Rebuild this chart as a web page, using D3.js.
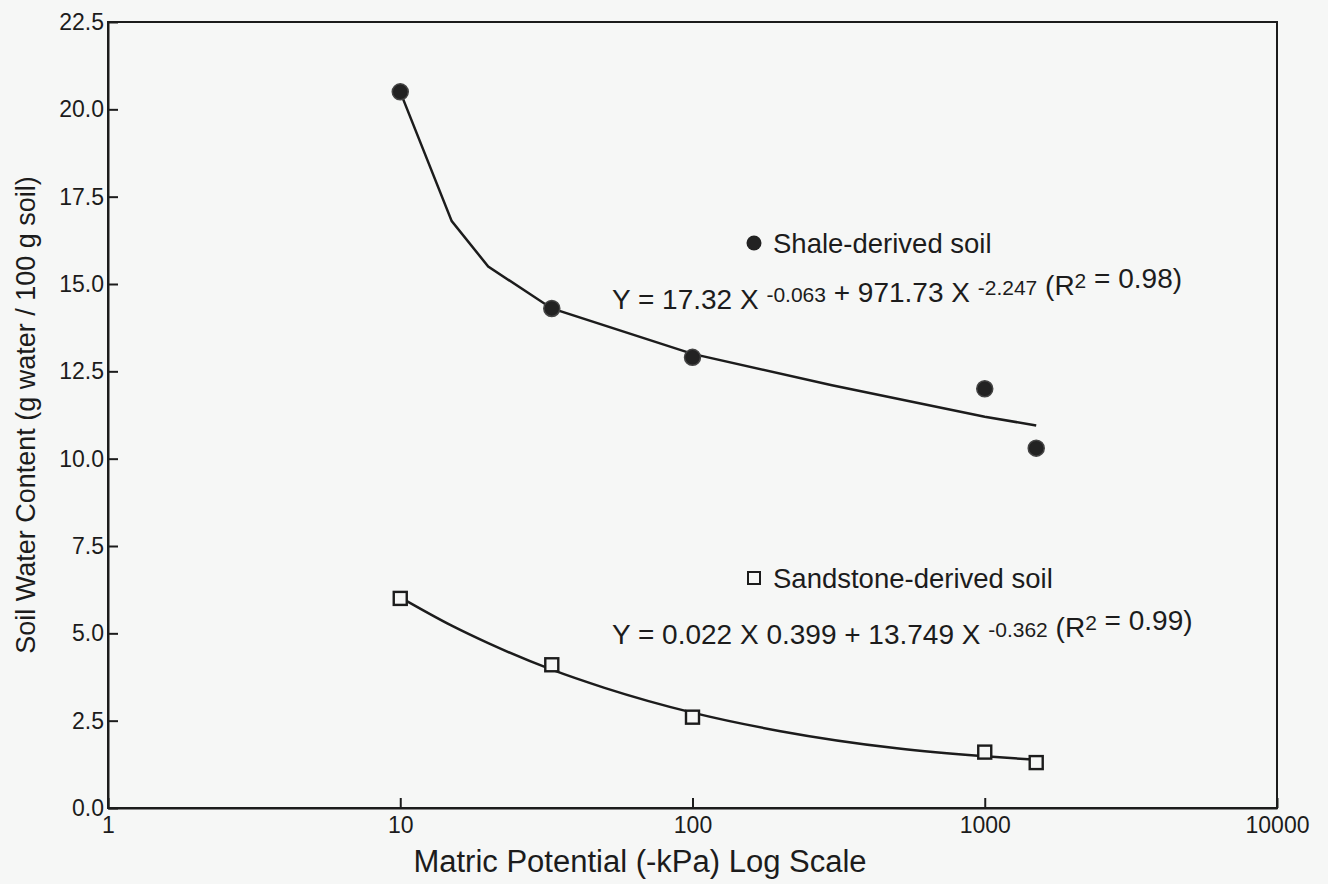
<!DOCTYPE html>
<html>
<head>
<meta charset="utf-8">
<script src="https://cdn.jsdelivr.net/npm/d3@7"></script>
<style>
  html, body { margin: 0; padding: 0; background: #f6f7f6; }
  svg { display: block; }
  text { font-family: "Liberation Sans", Arial, sans-serif; fill: #1c1c1c; }
</style>
</head>
<body>
<script>
// measured points
const potential = [10, 33, 100, 1000, 1500]
const shaleWater = [20.5, 14.3, 12.9, 12.0, 10.3]
const sandWater = [6.0, 4.1, 2.6, 1.6, 1.3]

// fitted curves
const shaleFitX = [10, 15, 20, 33, 100, 300, 1000, 1500]
const shaleFitY = [20.5, 16.8, 15.5, 14.3, 13.0, 12.1, 11.2, 10.95]
const sandFitX = [10, 15, 20, 33, 50, 100, 200, 500, 1000, 1500]
const sandFitY = [6.03, 5.22, 4.72, 3.96, 3.44, 2.73, 2.2, 1.71, 1.48, 1.38]

const xTicks = [1, 10, 100, 1000, 10000]
const yTicks = [0, 2.5, 5, 7.5, 10, 12.5, 15, 17.5, 20, 22.5]

const WIDTH = 1328
const HEIGHT = 884
const M = { left: 108, right: 51, top: 22, bottom: 76 }

const svg = d3.select('body').append('svg')
  .attr('width', WIDTH)
  .attr('height', HEIGHT)

const x = d3.scaleLog()
  .domain([1, 10000])
  .range([M.left, WIDTH - M.right])

const y = d3.scaleLinear()
  .domain([0, 22.5])
  .range([HEIGHT - M.bottom, M.top])

// frame
svg.append('rect')
  .attr('x', M.left)
  .attr('y', M.top)
  .attr('width', WIDTH - M.left - M.right)
  .attr('height', HEIGHT - M.top - M.bottom)
  .attr('fill', 'none')
  .attr('stroke', '#1c1c1c')
  .attr('stroke-width', 2)

// axes, ticks pointing inward
const xAxis = svg.append('g')
  .attr('transform', `translate(0,${HEIGHT - M.bottom})`)
  .call(d3.axisBottom(x).tickValues(xTicks).tickFormat(d3.format('d'))
    .tickSizeInner(-10).tickSizeOuter(0).tickPadding(9))

const yAxis = svg.append('g')
  .attr('transform', `translate(${M.left},0)`)
  .call(d3.axisLeft(y).tickValues(yTicks).tickFormat(d3.format('.1f'))
    .tickSizeInner(-10).tickSizeOuter(0).tickPadding(4))

for (const g of [xAxis, yAxis]) {
  g.select('.domain').attr('stroke', '#1c1c1c').attr('stroke-width', 2)
  g.selectAll('.tick line').attr('stroke', '#1c1c1c').attr('stroke-width', 2)
  g.selectAll('.tick text').attr('font-size', 23).attr('fill', '#1c1c1c')
    .attr('font-family', '"Liberation Sans", Arial, sans-serif')
}

// axis titles
svg.append('text')
  .attr('x', 640)
  .attr('y', 872)
  .attr('text-anchor', 'middle')
  .attr('font-size', 31)
  .text('Matric Potential (-kPa) Log Scale')

svg.append('text')
  .attr('transform', `translate(35,${(M.top + HEIGHT - M.bottom) / 2}) rotate(-90)`)
  .attr('text-anchor', 'middle')
  .attr('font-size', 27)
  .text('Soil Water Content (g water / 100 g soil)')

// fit lines
const line = d3.line()
  .x(d => x(d[0]))
  .y(d => y(d[1]))

svg.append('path')
  .datum(d3.zip(shaleFitX, shaleFitY))
  .attr('d', line)
  .attr('fill', 'none')
  .attr('stroke', '#1c1c1c')
  .attr('stroke-width', 2.5)

svg.append('path')
  .datum(d3.zip(sandFitX, sandFitY))
  .attr('d', line.curve(d3.curveMonotoneX))
  .attr('fill', 'none')
  .attr('stroke', '#1c1c1c')
  .attr('stroke-width', 2.5)

// markers
svg.selectAll('circle.shale')
  .data(d3.zip(potential, shaleWater))
  .enter()
  .append('circle')
  .attr('class', 'shale')
  .attr('cx', d => x(d[0]))
  .attr('cy', d => y(d[1]))
  .attr('r', 8)
  .attr('fill', '#222')
  .attr('stroke', '#444')
  .attr('stroke-width', 1.5)

const S = 13
svg.selectAll('rect.sand')
  .data(d3.zip(potential, sandWater))
  .enter()
  .append('rect')
  .attr('class', 'sand')
  .attr('x', d => x(d[0]) - S / 2)
  .attr('y', d => y(d[1]) - S / 2)
  .attr('width', S)
  .attr('height', S)
  .attr('fill', '#f6f7f6')
  .attr('stroke', '#1c1c1c')
  .attr('stroke-width', 2.4)

// legend
svg.append('circle')
  .attr('cx', 754).attr('cy', 243).attr('r', 7.5)
  .attr('fill', '#222')
svg.append('text')
  .attr('x', 773).attr('y', 253)
  .attr('font-size', 27.5)
  .text('Shale-derived soil')

svg.append('rect')
  .attr('x', 748).attr('y', 572).attr('width', 12).attr('height', 12)
  .attr('fill', 'none').attr('stroke', '#1c1c1c').attr('stroke-width', 2)
svg.append('text')
  .attr('x', 773).attr('y', 588)
  .attr('font-size', 27.5)
  .text('Sandstone-derived soil')

// equations
function equation(yPos, parts) {
  const t = svg.append('text')
    .attr('x', 612).attr('y', yPos)
    .attr('font-size', 28)
  parts.forEach(p => {
    if (p.sup) {
      t.append('tspan').attr('dy', -7).attr('font-size', 21).text(p.sup)
      t.append('tspan').attr('dy', 7).text('')
    } else {
      t.append('tspan').text(p.t)
    }
  })
}

equation(309, [
  { t: 'Y = 17.32 X ' }, { sup: '-0.063' },
  { t: ' + 971.73 X ' }, { sup: '-2.247' },
  { t: ' (R' }, { sup: '2' }, { t: ' = 0.98)' }
])

equation(644, [
  { t: 'Y = 0.022 X 0.399 + 13.749 X ' }, { sup: '-0.362' },
  { t: ' (R' }, { sup: '2' }, { t: ' = 0.99)' }
])
</script>
</body>
</html>
